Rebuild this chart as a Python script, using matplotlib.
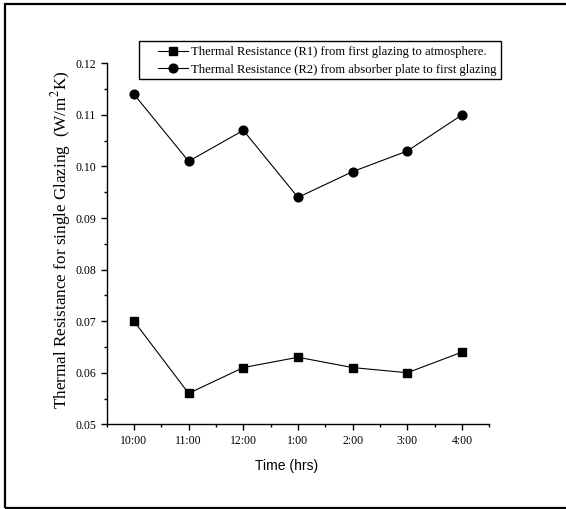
import matplotlib
matplotlib.use("Agg")
import matplotlib.pyplot as plt
from matplotlib.patches import Rectangle
from matplotlib.ticker import MultipleLocator, FormatStrFormatter

plt.rcParams["font.family"] = ["Liberation Serif", "DejaVu Serif"]
plt.rcParams["mathtext.fontset"] = "stix"

times = ["10:00", "11:00", "12:00", "1:00", "2:00", "3:00", "4:00"]
r1_vals = [0.070, 0.056, 0.061, 0.063, 0.061, 0.060, 0.064]
r2_vals = [0.114, 0.101, 0.107, 0.094, 0.099, 0.103, 0.110]
r1_label = "Thermal Resistance (R1) from first glazing to atmosphere."
r2_label = "Thermal Resistance (R2) from absorber plate to first glazing"

W, H = 566, 509
fig = plt.figure(figsize=(W / 100, H / 100), dpi=100)
ax = fig.add_axes([106.6 / W, 1 - 424.3 / H, (489.4 - 106.6) / W, (424.3 - 63.3) / H])

x = list(range(len(times)))
ax.plot(x, r1_vals, color="black", linewidth=0.8, marker="s", markersize=5.8,
        label=r1_label)
ax.plot(x, r2_vals, color="black", linewidth=0.8, marker="o", markersize=6.3,
        label=r2_label)

ax.set_xlim(-0.5, len(times) - 0.5)
ax.set_ylim(0.05, 0.12)
ax.set_xticks(x)
ax.set_xticklabels(times)
ax.xaxis.set_minor_locator(MultipleLocator(0.5))
ax.yaxis.set_major_locator(MultipleLocator(0.01))
ax.yaxis.set_minor_locator(MultipleLocator(0.005))
ax.yaxis.set_major_formatter(FormatStrFormatter("%.2f"))

for side in ("top", "right"):
    ax.spines[side].set_visible(False)
for side in ("left", "bottom"):
    ax.spines[side].set_linewidth(1.0)
ax.tick_params(which="major", direction="out", length=4.5, width=1.0,
               labelsize=8.5, pad=3)
ax.tick_params(which="minor", direction="out", length=2.5, width=1.0)

ax.set_xlabel("Time (hrs)", family=["Liberation Sans", "DejaVu Sans"], fontsize=10)
ax.xaxis.set_label_coords(0.47, -0.095)
ax.set_ylabel("Thermal Resistance for single Glazing  (W/m$^2$K)", fontsize=12.3)
ax.yaxis.set_label_coords(-0.088, 0.51)

# legend drawn without its own frame; the box is a separate rectangle
leg = ax.legend(loc="upper left", bbox_to_anchor=(158 / W, 1 - 46.5 / H),
                bbox_transform=fig.transFigure, borderaxespad=0, borderpad=0,
                frameon=False, fontsize=9.1, handlelength=2.35,
                handletextpad=0.25, labelspacing=0.42)
fig.patches.append(Rectangle((139.3 / W, 1 - 79.3 / H), (500.7 - 139.3) / W,
                             (79.3 - 40.7) / H, transform=fig.transFigure,
                             fill=False, edgecolor="black", linewidth=1.0))

# outer frame (left, top, bottom visible)
fig.patches.append(Rectangle((5 / W, 1 / H), 1.0, 1 - 5 / H, transform=fig.transFigure,
                             fill=False, edgecolor="black", linewidth=1.6))

fig.savefig("out.png", dpi=100)
